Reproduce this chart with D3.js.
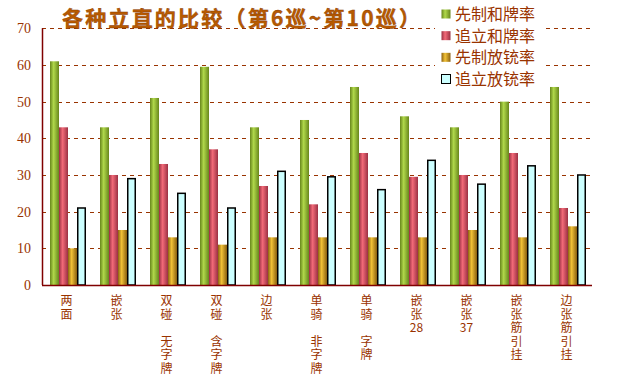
<!DOCTYPE html>
<html lang="zh">
<head>
<meta charset="utf-8">
<title>各种立直的比较</title>
<script src="https://d3js.org/d3.v7.min.js"></script>
<style>
  body { margin: 0; background: #fff; }
  svg text { fill: #993300; }
</style>
</head>
<body>
<script>
// data
var categories = ["两面", "嵌张", "双碰 无字牌", "双碰 含字牌", "边张", "单骑 非字牌",
                  "单骑 字牌", "嵌张28", "嵌张37", "嵌张筋引挂", "边张筋引挂"];
var seriesNames = ["先制和牌率", "追立和牌率", "先制放铳率", "追立放铳率"];
var xianzhiHe  = [61, 43, 51, 59.5, 43, 45, 54, 46, 43, 50, 54];
var zhuiliHe   = [43, 30, 33, 37, 27, 22, 36, 29.5, 30, 36, 21];
var xianzhiFang = [10, 15, 13, 11, 13, 13, 13, 13, 15, 13, 16];
var zhuiliFang = [21, 29, 25, 21, 31, 29.5, 26, 34, 27.5, 32.5, 30];
var yTicks = [0, 10, 20, 30, 40, 50, 60, 70];
var title = "各种立直的比较（第6巡~第10巡）";

var seriesValues = [xianzhiHe, zhuiliHe, xianzhiFang, zhuiliFang];

var width = 626, height = 377;
// note: "top" is a reserved window property, so plotTop etc.
var plotLeft = 42, plotRight = 592, plotTop = 28.3, plotBottom = 285;

var svg = d3.select("body").append("svg")
    .attr("width", width)
    .attr("height", height);

// gradients for the cylinder look of the bars
var grads = [
  {id: "g0", edge: "#67861c", mid: "#b0d84a"},
  {id: "g1", edge: "#9a3043", mid: "#f26a78"},
  {id: "g2", edge: "#8a6010", mid: "#f2c236"}
];
var defs = svg.append("defs");
grads.forEach(function(g) {
  var lg = defs.append("linearGradient").attr("id", g.id)
      .attr("x1", "0").attr("x2", "1").attr("y1", "0").attr("y2", "0");
  lg.append("stop").attr("offset", "0").attr("stop-color", g.edge);
  lg.append("stop").attr("offset", "0.4").attr("stop-color", g.mid);
  lg.append("stop").attr("offset", "1").attr("stop-color", g.edge);
});
var fills = ["url(#g0)", "url(#g1)", "url(#g2)", "#ccffff"];

var x = d3.scaleBand()
    .domain(categories)
    .range([plotLeft, plotRight]);

var xInner = d3.scaleBand()
    .domain(d3.range(seriesNames.length))
    .range([8, 44]);

var y = d3.scaleLinear()
    .domain([0, 70])
    .range([plotBottom, plotTop]);

// gridlines
svg.append("g").selectAll("line")
  .data(yTicks.filter(function(d) { return d > 0; }))
  .enter().append("line")
    .attr("x1", plotLeft)
    .attr("x2", plotRight - 1)
    .attr("y1", function(d) { return Math.round(y(d)) + 0.5; })
    .attr("y2", function(d) { return Math.round(y(d)) + 0.5; })
    .attr("stroke", "#993300")
    .attr("stroke-width", 1)
    .attr("stroke-dasharray", "4,4");

// y tick labels
svg.append("g").selectAll("text")
  .data(yTicks)
  .enter().append("text")
    .attr("x", 31)
    .attr("y", function(d) { return y(d) + 5; })
    .attr("text-anchor", "end")
    .style("font", "14px 'Liberation Serif', serif")
    .text(function(d) { return d; });

// bars
var groups = svg.append("g").selectAll("g")
  .data(categories)
  .enter().append("g")
    .attr("transform", function(d) { return "translate(" + x(d) + ",0)"; });

groups.selectAll("rect")
  .data(function(d, i) {
    return seriesValues.map(function(s, k) { return {k: k, v: s[i]}; });
  })
  .enter().append("rect")
    .attr("x", function(d) { return xInner(d.k) + (d.k == 3 ? 0.75 : 0); })
    .attr("y", function(d) { return y(d.v); })
    .attr("width", function(d) { return xInner.bandwidth() - (d.k == 3 ? 1.5 : 0); })
    .attr("height", function(d) { return y(0) - y(d.v); })
    .attr("fill", function(d) { return fills[d.k]; })
    .attr("stroke", function(d) { return d.k == 3 ? "#000" : "none"; })
    .attr("stroke-width", 1.5);

// axes lines
svg.append("line")
    .attr("x1", plotLeft + 0.5).attr("x2", plotLeft + 0.5)
    .attr("y1", plotTop).attr("y2", plotBottom)
    .attr("stroke", "#800000").attr("stroke-width", 1.5);
svg.append("line")
    .attr("x1", plotLeft).attr("x2", plotRight)
    .attr("y1", plotBottom + 0.5).attr("y2", plotBottom + 0.5)
    .attr("stroke", "#800000").attr("stroke-width", 1.5);

// x labels, written vertically
function splitLabel(s) {
  return s.match(/\d+|\s|./g);
}
groups.append("text")
    .attr("text-anchor", "middle")
    .style("font", "12px 'Noto Sans CJK SC', sans-serif")
  .selectAll("tspan")
  .data(function(d) { return splitLabel(d); })
  .enter().append("tspan")
    .attr("x", x.bandwidth() / 2 - 0.5)
    .attr("y", function(d, i) { return 305 + i * 13.5; })
    .text(function(d) { return d == " " ? "" : d; });

// legend box
var legend = svg.append("g");
legend.append("rect")
    .attr("x", 435).attr("y", 0)
    .attr("width", 111).attr("height", 90)
    .attr("fill", "#fff");
var legendY = d3.scalePoint()
    .domain(seriesNames)
    .range([14, 79]);
seriesNames.forEach(function(name, k) {
  legend.append("rect")
      .attr("x", 441.5).attr("y", legendY(name) - 4.5)
      .attr("width", 9).attr("height", 9)
      .attr("fill", fills[k])
      .attr("stroke", k == 3 ? "#000" : "none")
      .attr("stroke-width", 1);
  legend.append("text")
      .attr("x", 455)
      .attr("y", legendY(name) + 6)
      .style("font", "16px 'Noto Sans CJK SC', sans-serif")
      .text(name);
});

// title
svg.append("text")
    .attr("x", 62)
    .attr("y", 26)
    .attr("textLength", 358)
    .style("font", "bold 21px 'Noto Sans CJK SC', sans-serif")
    .style("fill", "#b85a00")
    .style("stroke", "#8a3a00")
    .style("stroke-width", 0.4)
    .text(title);
</script>
</body>
</html>
